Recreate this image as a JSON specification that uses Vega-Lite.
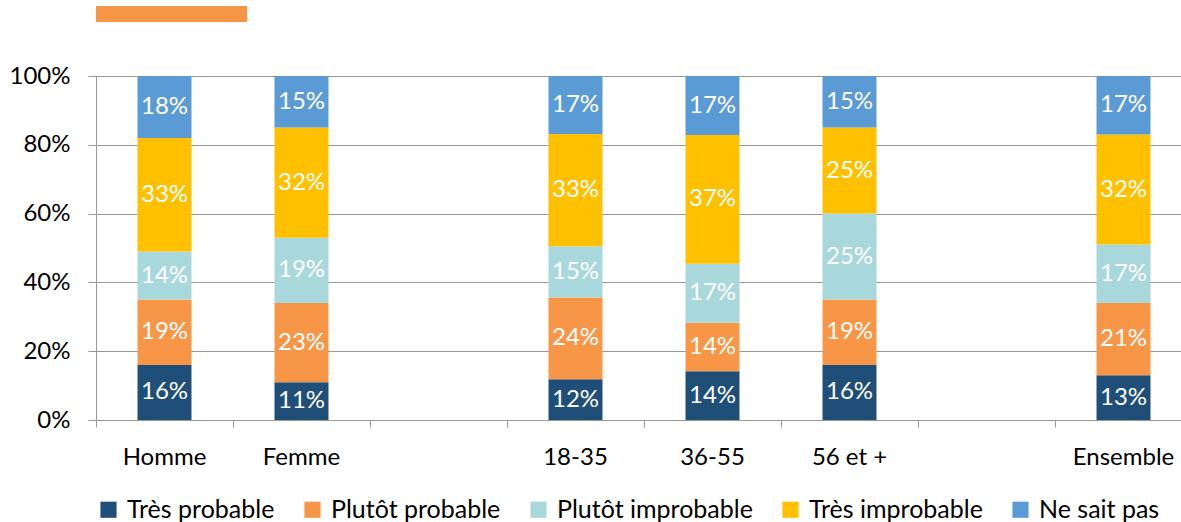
{
  "$schema": "https://vega.github.io/schema/vega-lite/v6.json",
  "padding": {"left": 9, "top": 6, "right": 0, "bottom": 0},
  "background": "white",
  "config": {
    "font": "Lato",
    "view": {"stroke": null}
  },
  "columns": 1,
  "align": "none",
  "spacing": 42,
  "concat": [
    {
      "width": 151,
      "height": 16,
      "view": {"fill": "#F79646", "stroke": null},
      "data": {"values": [{"a": 1}]},
      "mark": {"type": "point", "opacity": 0},
      "encoding": {}
    },
    {
      "width": 1096,
      "height": 344,
      "data": {
        "values": [
          {"g": "Homme", "cat": "Très probable", "k": 1, "p": 0.16},
          {"g": "Homme", "cat": "Plutôt probable", "k": 2, "p": 0.19},
          {"g": "Homme", "cat": "Plutôt improbable", "k": 3, "p": 0.14},
          {"g": "Homme", "cat": "Très improbable", "k": 4, "p": 0.33},
          {"g": "Homme", "cat": "Ne sait pas", "k": 5, "p": 0.18},
          {"g": "Femme", "cat": "Très probable", "k": 1, "p": 0.11},
          {"g": "Femme", "cat": "Plutôt probable", "k": 2, "p": 0.23},
          {"g": "Femme", "cat": "Plutôt improbable", "k": 3, "p": 0.19},
          {"g": "Femme", "cat": "Très improbable", "k": 4, "p": 0.32},
          {"g": "Femme", "cat": "Ne sait pas", "k": 5, "p": 0.15},
          {"g": "18-35", "cat": "Très probable", "k": 1, "p": 0.12},
          {"g": "18-35", "cat": "Plutôt probable", "k": 2, "p": 0.24},
          {"g": "18-35", "cat": "Plutôt improbable", "k": 3, "p": 0.15},
          {"g": "18-35", "cat": "Très improbable", "k": 4, "p": 0.33},
          {"g": "18-35", "cat": "Ne sait pas", "k": 5, "p": 0.17},
          {"g": "36-55", "cat": "Très probable", "k": 1, "p": 0.14},
          {"g": "36-55", "cat": "Plutôt probable", "k": 2, "p": 0.14},
          {"g": "36-55", "cat": "Plutôt improbable", "k": 3, "p": 0.17},
          {"g": "36-55", "cat": "Très improbable", "k": 4, "p": 0.37},
          {"g": "36-55", "cat": "Ne sait pas", "k": 5, "p": 0.17},
          {"g": "56 et +", "cat": "Très probable", "k": 1, "p": 0.16},
          {"g": "56 et +", "cat": "Plutôt probable", "k": 2, "p": 0.19},
          {"g": "56 et +", "cat": "Plutôt improbable", "k": 3, "p": 0.25},
          {"g": "56 et +", "cat": "Très improbable", "k": 4, "p": 0.25},
          {"g": "56 et +", "cat": "Ne sait pas", "k": 5, "p": 0.15},
          {"g": "Ensemble", "cat": "Très probable", "k": 1, "p": 0.13},
          {"g": "Ensemble", "cat": "Plutôt probable", "k": 2, "p": 0.21},
          {"g": "Ensemble", "cat": "Plutôt improbable", "k": 3, "p": 0.17},
          {"g": "Ensemble", "cat": "Très improbable", "k": 4, "p": 0.32},
          {"g": "Ensemble", "cat": "Ne sait pas", "k": 5, "p": 0.17}
        ]
      },
      "encoding": {
        "x": {
          "field": "g",
          "type": "nominal",
          "sort": ["Homme", "Femme", "blank1", "18-35", "36-55", "56 et +", "blank2", "Ensemble"],
          "scale": {
            "domain": ["Homme", "Femme", "blank1", "18-35", "36-55", "56 et +", "blank2", "Ensemble"],
            "paddingInner": 0,
            "paddingOuter": 0
          },
          "axis": {
            "title": null,
            "labelAngle": 0,
            "labelExpr": "indexof(datum.value, 'blank') >= 0 ? '' : datum.value",
            "bandPosition": 0,
            "tickSize": 7,
            "tickColor": "#999999",
            "domainColor": "#999999",
            "labelFontSize": 24,
            "labelColor": "#000000",
            "labelPadding": 18,
            "grid": false
          }
        },
        "y": {
          "field": "p",
          "type": "quantitative",
          "stack": "normalize",
          "axis": {
            "title": null,
            "format": ".0%",
            "values": [0, 0.2, 0.4, 0.6, 0.8, 1],
            "tickSize": 8,
            "tickColor": "#999999",
            "domainColor": "#999999",
            "gridColor": "#999999",
            "labelFontSize": 24,
            "labelColor": "#000000",
            "labelPadding": 18
          }
        },
        "order": {"field": "k", "type": "quantitative"}
      },
      "layer": [
        {
          "mark": {"type": "bar", "width": {"band": 0.394}},
          "encoding": {
            "color": {
              "field": "cat",
              "type": "nominal",
              "scale": {
                "domain": ["Très probable", "Plutôt probable", "Plutôt improbable", "Très improbable", "Ne sait pas"],
                "range": ["#1F4E79", "#F79646", "#A9D8DC", "#FFC000", "#5B9BD5"]
              },
              "legend": {
                "title": null,
                "orient": "bottom",
                "direction": "horizontal",
                "symbolType": "square",
                "symbolSize": 260,
                "labelFontSize": 25,
                "labelLimit": 400,
                "labelColor": "#000000",
                "columnPadding": 25,
                "labelOffset": 6,
                "offset": 28
              }
            }
          }
        },
        {
          "mark": {"type": "text", "color": "white", "fontSize": 24},
          "encoding": {
            "y": {"field": "p", "type": "quantitative", "stack": "normalize", "bandPosition": 0.5},
            "text": {"field": "p", "type": "quantitative", "format": ".0%"}
          }
        }
      ]
    }
  ]
}
